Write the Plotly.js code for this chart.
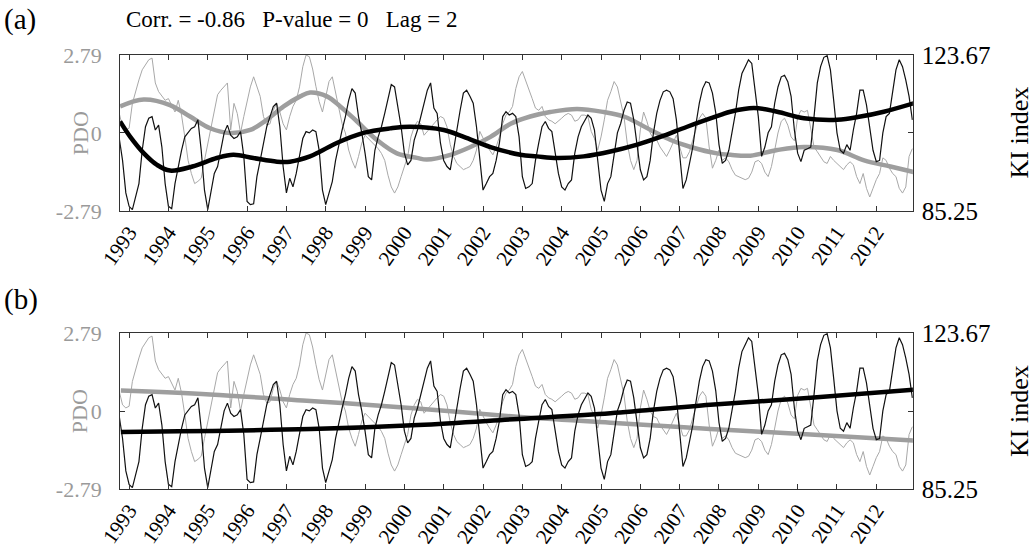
<!DOCTYPE html>
<html><head><meta charset="utf-8">
<script src="https://cdn.plot.ly/plotly-3.0.1.min.js"></script>
<style>html,body{margin:0;padding:0;background:#fff}#chart{width:1035px;height:549px}</style>
</head><body><div id="chart"></div>
<script>
// Monthly series, first month at startYear
const startYear = 1992.75;
const pdo = [0.70,0.22,0.11,0.17,1.06,1.53,1.90,2.26,2.43,2.62,2.68,1.79,1.48,1.31,1.17,1.23,1.00,0.75,1.17,0.64,
-0.14,-0.98,-1.45,-1.81,-1.73,-1.62,-0.98,-0.36,0.22,0.81,1.37,1.53,1.65,1.79,0.11,1.06,0.70,0.00,0.59,1.17,
1.65,2.01,1.65,1.31,0.59,0.28,0.33,0.81,1.06,0.75,0.33,0.11,0.59,0.95,1.17,1.65,2.37,2.79,2.73,2.29,
1.67,1.12,0.75,1.31,1.84,2.01,1.42,0.95,0.33,0.00,-0.61,-0.98,-1.26,-0.84,-0.36,-0.08,-0.20,-0.31,-0.42,-0.56,
-0.73,-0.98,-1.51,-1.93,-2.15,-1.93,-1.56,-1.20,-0.84,-0.14,0.22,0.42,0.33,-0.08,0.06,0.22,0.33,0.47,0.59,0.53,
0.22,-0.42,-0.84,-1.09,-1.20,-1.31,-1.26,-1.20,-0.98,-0.61,0.06,-0.20,-0.42,-0.61,-0.78,-0.50,-0.14,0.33,0.64,0.75,
0.95,1.59,2.01,2.20,1.90,1.53,1.23,0.89,0.81,0.95,0.59,0.47,0.42,0.33,0.42,0.53,0.64,0.70,0.64,0.42,
0.47,0.64,0.64,0.59,0.06,-0.20,-0.61,-0.14,0.47,1.17,1.48,1.84,1.65,1.17,0.59,-0.36,-0.98,-1.31,-0.98,0.11,
0.75,0.42,0.00,-0.20,-0.25,-0.50,-0.67,-0.84,-0.61,-0.31,-0.08,-0.50,-0.89,-0.89,-0.67,-0.25,0.11,0.53,0.70,0.53,
-0.50,-1.26,-0.98,-0.61,-0.98,-0.89,-1.03,-1.31,-1.51,-1.56,-1.62,-1.67,-1.62,-1.40,-1.03,-0.98,-1.09,-1.40,-1.56,-1.20,
-0.61,0.00,0.42,0.53,0.28,-0.14,-0.28,0.56,0.81,0.75,0.81,0.17,-0.50,-0.67,-0.84,-1.03,-1.09,-0.84,-0.98,-1.09,
-1.17,-1.31,-1.14,-1.03,-1.14,-1.56,-1.81,-1.45,-1.98,-2.29,-1.98,-1.67,-1.45,-0.89,-0.98,-1.26,-1.45,-1.56,-1.98,-2.15,
-1.93,-0.84,-0.56];
const ki = [103.1,97.7,89.7,86.4,85.6,88.7,92.0,100.2,106.0,108.1,108.5,105.2,106.4,101.0,92.0,86.4,85.8,92.0,96.2,100.2,
103.5,104.5,105.6,106.0,107.7,100.2,90.4,85.6,90.4,94.5,96.2,100.2,104.5,106.4,103.9,103.1,103.5,104.8,98.7,87.6,
86.8,87.0,93.7,97.7,102.0,106.0,108.5,111.0,111.8,106.0,96.2,89.7,93.3,91.2,94.5,98.7,103.1,104.8,104.5,105.2,
104.8,100.2,90.4,86.8,89.7,92.5,97.7,101.6,105.2,108.5,112.5,115.4,114.3,108.5,104.5,99.5,93.7,92.9,100.2,103.5,
106.0,109.3,112.5,116.4,115.8,111.0,106.0,99.5,96.6,97.7,102.7,105.2,108.5,111.8,115.0,116.8,110.6,109.3,102.0,97.7,
96.2,95.4,100.2,106.0,110.0,114.3,115.0,113.5,111.8,106.0,98.7,90.4,92.0,93.7,94.5,97.7,102.0,108.5,109.7,108.9,
109.3,108.5,103.5,93.7,90.8,91.2,92.0,97.7,102.0,106.0,107.3,105.6,104.8,99.5,94.5,91.2,90.4,92.0,92.9,99.5,
103.5,106.0,107.3,108.9,108.1,105.2,97.7,90.4,87.6,92.0,93.7,99.5,104.5,106.8,110.0,112.1,111.8,107.7,102.0,95.4,
92.9,93.7,97.7,104.5,109.3,112.5,114.6,115.0,114.6,112.9,107.7,98.7,90.8,92.9,97.0,101.0,106.8,111.8,115.4,117.1,
116.8,114.3,109.5,101.6,97.0,97.7,100.2,104.8,109.3,115.0,119.1,120.8,122.5,121.6,115.0,108.5,98.7,101.0,104.5,106.0,
111.8,115.8,118.3,118.7,117.1,113.5,105.2,99.5,97.4,100.2,100.6,101.0,108.5,116.8,120.8,123.1,123.5,120.0,112.5,104.5,
100.2,99.5,101.6,100.2,105.2,109.3,115.0,115.0,111.4,105.2,100.2,97.4,97.7,104.5,108.5,109.3,115.0,120.0,122.5,120.8,
117.5,113.5,107.7];

// Smoothed curves (panel a)
const pdoSmoothYears = [1992.77,1993.37,1994.04,1994.55,1995.06,1995.57,1996.08,1996.50,1996.93,1997.35,1997.60,1998.03,1998.37,1998.79,1999.30,1999.81,2000.32,2000.57,2001.17,2001.68,2002.19,2002.70,2003.20,2003.71,2004.39,2005.07,2005.58,2006.26,2006.77,2007.28,2007.95,2008.29,2008.80,2009.48,2010.16,2011.01,2011.69,2012.36,2012.96];
const pdoSmooth = [0.95,1.20,1.00,0.59,0.17,0.00,0.11,0.47,0.95,1.31,1.45,1.31,0.95,0.42,-0.25,-0.73,-0.89,-0.95,-0.78,-0.50,-0.14,0.33,0.59,0.75,0.86,0.75,0.59,0.11,-0.25,-0.50,-0.73,-0.78,-0.81,-0.61,-0.50,-0.61,-0.98,-1.20,-1.40];
const kiSmoothYears = [1992.77,1993.03,1993.37,1993.71,1994.04,1994.61,1995.23,1995.65,1996.16,1996.76,1997.09,1997.60,1997.86,1998.28,1998.96,1999.64,2000.15,2001.00,2001.51,2002.19,2002.95,2003.37,2003.88,2004.56,2005.24,2005.92,2006.51,2007.19,2008.04,2008.29,2008.89,2009.48,2010.16,2011.01,2011.60,2012.19,2012.96];
const kiSmooth = [107.3,103.5,99.5,96.6,95.2,96.2,98.3,99.1,98.3,97.4,97.4,98.7,99.9,102.0,104.5,105.6,106.0,105.2,103.5,101.0,99.1,98.7,98.3,98.7,99.9,101.6,103.5,106.0,108.9,109.7,110.6,109.7,108.1,107.7,108.5,109.7,111.8];

// Trend curves (panel b)
const pdoTrendYears = [1992.79,1995.06,1997.61,2000.15,2002.80,2005.24,2007.78,2010.33,2012.95];
const pdoTrend = [0.73,0.59,0.36,0.11,-0.20,-0.42,-0.64,-0.84,-1.06];
const kiTrendYears = [1992.79,1997.61,2000.35,2002.90,2005.24,2007.78,2010.33,2012.95];
const kiTrend = [99.3,100.0,101.0,102.5,103.9,106.0,107.7,109.7];

const yearTicks = [1993,1994,1995,1996,1997,1998,1999,2000,2001,2002,2003,2004,2005,2006,2007,2008,2009,2010,2011,2012];
const pdoTicks = [-2.79,0,2.79];
const kiTicks = [85.25,123.67];

const months = pdo.map((_, i) => startYear + i / 12);
const GRAY_THIN = '#a8a8a8', GRAY_THICK = '#9e9e9e';

function panel(xa, ya, ya2, smoothP, smoothPY, smoothK, smoothKY, shape) {
  return [
    {x: months, y: pdo, xaxis: xa, yaxis: ya, mode: 'lines', line: {color: GRAY_THIN, width: 1}},
    {x: months, y: ki, xaxis: xa, yaxis: ya2, mode: 'lines', line: {color: '#111', width: 1.2}},
    {x: smoothPY, y: smoothP, xaxis: xa, yaxis: ya, mode: 'lines', line: {color: GRAY_THICK, width: 4.5, shape: shape, smoothing: 1}},
    {x: smoothKY, y: smoothK, xaxis: xa, yaxis: ya2, mode: 'lines', line: {color: '#000', width: 4.5, shape: shape, smoothing: 1}}
  ];
}

const data = [].concat(
  panel('x', 'y', 'y2', pdoSmooth, pdoSmoothYears, kiSmooth, kiSmoothYears, 'spline'),
  panel('x2', 'y3', 'y4', pdoTrend, pdoTrendYears, kiTrend, kiTrendYears, 'spline')
);

const FONT = 'Liberation Serif, Times New Roman, serif';
const xBase = {
  range: [1992.77, 2012.93], tickvals: yearTicks, ticktext: yearTicks.map(String),
  tickangle: -55, ticks: 'inside', ticklen: 5, tickcolor: '#333', showline: true, mirror: 'ticks',
  linecolor: '#333', linewidth: 1, showgrid: false, zeroline: false, ticklabelstandoff: 0,
  tickfont: {family: FONT, size: 21, color: '#000'}, domain: [0.116, 0.882]
};
const yLeft = {
  range: [-2.79, 2.79], tickvals: pdoTicks, ticktext: pdoTicks.map(String),
  ticks: 'inside', ticklen: 5, tickcolor: '#333', showline: true, mirror: 'ticks',
  linecolor: '#333', linewidth: 1, showgrid: false, zeroline: false, ticklabelstandoff: 13,
  tickfont: {family: FONT, size: 22, color: '#9a9a9a'}
};
const yRight = {
  range: [85.25, 123.67], tickvals: kiTicks, ticktext: kiTicks.map(String),
  side: 'right', ticks: '', showline: false, showgrid: false, zeroline: false, ticklabelstandoff: 8,
  tickfont: {family: FONT, size: 25, color: '#000'}
};

const layout = {
  width: 1035, height: 549, margin: {l: 0, r: 0, t: 0, b: 0},
  paper_bgcolor: '#fff', plot_bgcolor: '#fff', showlegend: false,
  font: {family: FONT},
  xaxis: Object.assign({}, xBase, {anchor: 'y'}),
  yaxis: Object.assign({}, yLeft, {domain: [0.6157, 0.8998], anchor: 'x'}),
  yaxis2: Object.assign({}, yRight, {overlaying: 'y', anchor: 'x'}),
  xaxis2: Object.assign({}, xBase, {anchor: 'y3'}),
  yaxis3: Object.assign({}, yLeft, {domain: [0.1093, 0.3934], anchor: 'x2'}),
  yaxis4: Object.assign({}, yRight, {overlaying: 'y3', anchor: 'x2'}),
  annotations: [
    {text: '(a)', x: 0.002, y: 0.9636, xref: 'paper', yref: 'paper', xanchor: 'left', yanchor: 'middle', showarrow: false, font: {family: FONT, size: 29, color: '#000'}},
    {text: 'Corr. = -0.86&nbsp;&nbsp;&nbsp;P-value = 0&nbsp;&nbsp;&nbsp;Lag = 2', x: 0.2814, y: 0.9636, xref: 'paper', yref: 'paper', xanchor: 'center', yanchor: 'middle', showarrow: false, font: {family: FONT, size: 23, color: '#000'}},
    {text: '(b)', x: 0.002, y: 0.4536, xref: 'paper', yref: 'paper', xanchor: 'left', yanchor: 'middle', showarrow: false, font: {family: FONT, size: 29, color: '#000'}},
    {text: 'PDO', x: 0.0775, y: 0.7577, xref: 'paper', yref: 'paper', xanchor: 'center', yanchor: 'middle', textangle: -90, showarrow: false, font: {family: FONT, size: 22, color: '#9a9a9a'}},
    {text: 'KI index', x: 0.9855, y: 0.7586, xref: 'paper', yref: 'paper', xanchor: 'center', yanchor: 'middle', textangle: -90, showarrow: false, font: {family: FONT, size: 26, color: '#000'}},
    {text: 'PDO', x: 0.0775, y: 0.2514, xref: 'paper', yref: 'paper', xanchor: 'center', yanchor: 'middle', textangle: -90, showarrow: false, font: {family: FONT, size: 22, color: '#9a9a9a'}},
    {text: 'KI index', x: 0.9855, y: 0.2514, xref: 'paper', yref: 'paper', xanchor: 'center', yanchor: 'middle', textangle: -90, showarrow: false, font: {family: FONT, size: 26, color: '#000'}}
  ]
};

Plotly.newPlot('chart', data, layout, {displayModeBar: false, staticPlot: true});
</script></body></html>
